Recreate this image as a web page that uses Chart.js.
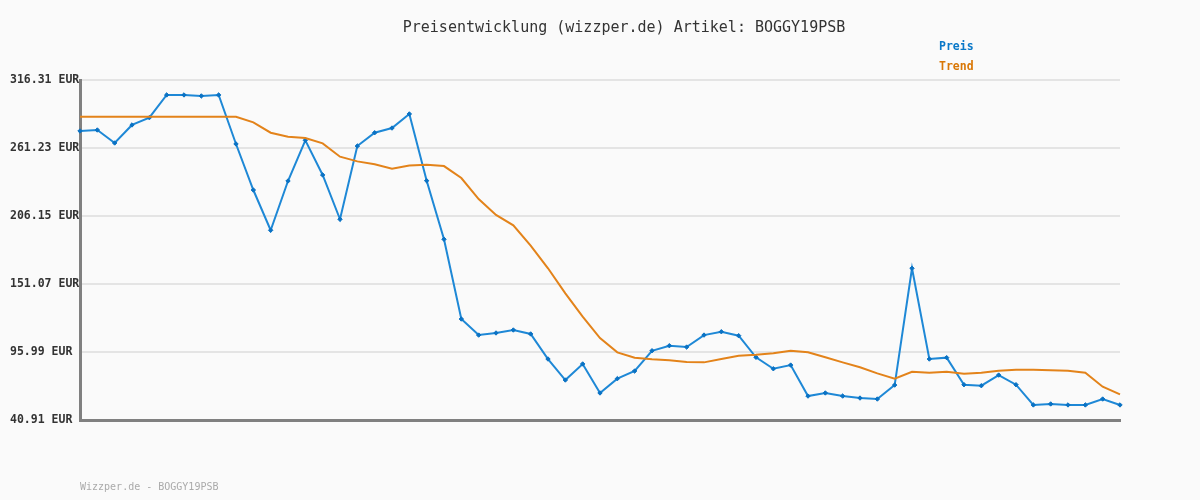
<!DOCTYPE html>
<html>
<head>
<meta charset="utf-8">
<script src="https://cdn.jsdelivr.net/npm/chart.js@4.4.0/dist/chart.umd.min.js"></script>
<style>
  body { margin: 0; background: #fafafa; }
</style>
</head>
<body>
<canvas id="chart" width="1200" height="500"></canvas>
<script>
// Datenpunkte
const labels = Array.from({ length: 61 }, (_, i) => String(i + 1));

const preis = [
  275.0, 275.8, 265.3, 279.9, 285.8, 304.2, 304.2, 303.4, 304.2, 264.5,
  227.2, 194.6, 234.5, 267.5, 239.4, 203.5, 262.8, 273.6, 277.4, 288.8,
  234.7, 187.3, 122.7, 109.7, 111.4, 113.8, 110.6, 90.3, 73.3, 86.3,
  62.8, 74.4, 80.6, 97.0, 101.1, 100.0, 109.7, 112.4, 109.2, 91.7,
  82.4, 85.4, 60.3, 62.8, 60.3, 58.7, 57.9, 69.2, 163.8, 90.3,
  91.4, 69.5, 68.7, 77.3, 69.5, 53.1, 53.9, 53.1, 53.1, 57.9,
  53.1
];

const trend = [
  286.6, 286.6, 286.6, 286.6, 286.6, 286.6, 286.6, 286.6, 286.6, 286.6,
  282.0, 273.6, 270.4, 269.3, 265.0, 254.2, 250.4, 248.0, 244.5, 247.0,
  247.7, 246.6, 236.9, 219.9, 207.0, 198.6, 182.1, 163.8, 143.5, 124.6,
  107.3, 95.7, 91.4, 90.1, 89.3, 87.9, 87.6, 90.3, 93.0, 93.8,
  95.0, 97.0, 95.7, 91.7, 87.6, 83.6, 78.7, 74.4, 80.0, 79.2,
  80.0, 78.4, 79.2, 80.8, 81.6, 81.6, 81.3, 80.8, 79.2, 67.9,
  61.7
];

const yTicks = [40.91, 95.99, 151.07, 206.15, 261.23, 316.31];

const titel = 'Preisentwicklung (wizzper.de) Artikel: BOGGY19PSB';
const fusszeile = 'Wizzper.de - BOGGY19PSB';
const legendeTexte = ['Preis', 'Trend'];
const legendeFarben = ['#0a78c8', '#d97706'];

const mono = '"DejaVu Sans Mono", "Liberation Mono", monospace';

// Hintergrund, Titel, Legende und Fusszeile
const deko = {
  id: 'deko',
  beforeDraw(chart) {
    const ctx = chart.ctx;
    ctx.save();
    ctx.fillStyle = '#fafafa';
    ctx.fillRect(0, 0, chart.width, chart.height);
    ctx.restore();
  },
  afterDraw(chart) {
    const ctx = chart.ctx;
    ctx.save();
    ctx.textBaseline = 'middle';

    ctx.fillStyle = '#333';
    ctx.font = '15px ' + mono;
    ctx.textAlign = 'center';
    ctx.fillText(titel, 624, 28);

    ctx.textAlign = 'left';
    ctx.font = 'bold 11.5px ' + mono;
    legendeTexte.forEach((t, i) => {
      ctx.fillStyle = legendeFarben[i];
      ctx.fillText(t, 939, 47.5 + i * 20);
    });

    ctx.fillStyle = '#aaa';
    ctx.font = '10px ' + mono;
    ctx.fillText(fusszeile, 80, 487);
    ctx.restore();
  }
};

new Chart(document.getElementById('chart'), {
  type: 'line',
  data: {
    labels: labels,
    datasets: [
      {
        label: 'Trend',
        data: trend,
        borderColor: '#e3831a',
        borderWidth: 2,
        pointRadius: 0,
        tension: 0
      },
      {
        label: 'Preis',
        data: preis,
        borderColor: '#1e88d6',
        borderWidth: 2,
        pointStyle: 'rectRot',
        pointRadius: 2.2,
        pointBackgroundColor: '#0a72c4',
        pointBorderColor: '#0a72c4',
        pointBorderWidth: 1,
        tension: 0
      }
    ]
  },
  options: {
    responsive: false,
    animation: false,
    layout: { padding: { left: 10, top: 80, right: 80, bottom: 80 } },
    plugins: {
      legend: { display: false },
      title: { display: false },
      tooltip: { enabled: false }
    },
    scales: {
      x: {
        offset: false,
        ticks: { display: false },
        grid: { display: false, drawTicks: false },
        border: { display: true, color: '#808080', width: 3 },
        afterFit: (scale) => { scale.height = 0; }
      },
      y: {
        min: 40.91,
        max: 316.31,
        afterBuildTicks: (scale) => {
          scale.ticks = yTicks.map(v => ({ value: v }));
        },
        afterFit: (scale) => { scale.width = 70; },
        ticks: {
          crossAlign: 'far',
          padding: 0,
          color: '#333',
          font: { family: mono, size: 11.5, weight: 'bold' },
          callback: (v) => Number(v).toFixed(2) + ' EUR'
        },
        grid: { color: '#e4e4e4', lineWidth: 2, drawTicks: false },
        border: { display: true, color: '#808080', width: 3 }
      }
    }
  },
  plugins: [deko]
});
</script>
</body>
</html>
